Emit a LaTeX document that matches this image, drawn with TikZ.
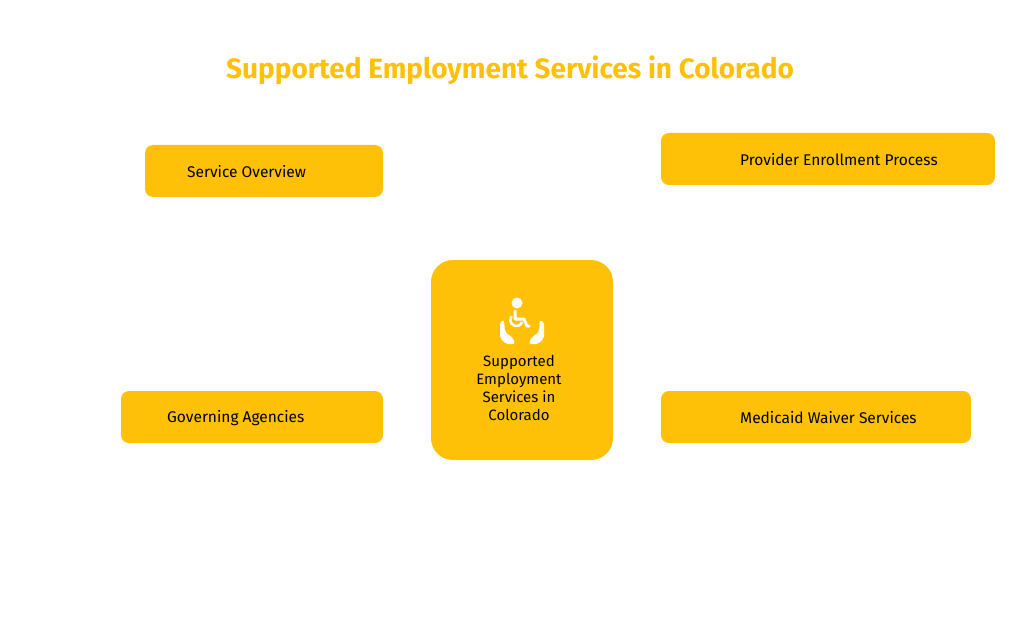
\documentclass[tikz,border=0pt]{standalone}
\usepackage{fontspec}
\setmainfont{Fira Sans}
\definecolor{amb}{HTML}{FFC107}
\begin{document}
\begin{tikzpicture}[x=1pt,y=-1pt,
 box/.style={fill=amb,rounded corners=8pt},
 lab/.style={anchor=west,font=\fontsize{15.5}{18}\selectfont,text=black,inner sep=0}]
\useasboundingbox (0,0) rectangle (1032,636);
\node[font=\fontsize{28}{32}\selectfont\bfseries,text=amb] (title) at (510,70) {Supported Employment Services in Colorado};
\fill[box] (145,145) rectangle (383,197);
\node[lab] (so) at (187,172) {Service Overview};
\fill[box] (661,133) rectangle (995,185);
\node[lab] (pe) at (740,160) {Provider Enrollment Process};
\fill[box] (121,391) rectangle (383,443);
\node[lab] (ga) at (167,418) {Governing Agencies};
\fill[box] (661,391) rectangle (971,443);
\node[lab] (mw) at (740,418) {Medicaid Waiver Services};
\fill[amb,rounded corners=22pt] (431,260) rectangle (613,460);
\node[align=center,font=\fontsize{15}{18}\selectfont,text=black] (c) at (519,388) {Supported\\Employment\\Services in\\Colorado};
% icon
\fill[white] (517,303) circle (5.5);
\draw[white,line width=3pt,line cap=round,line join=round] (515,311) -- (515,319) -- (524,319) -- (527,326) -- (529,326);
\draw[white,line width=2.5pt] (522,322) arc (20:220:6);
\fill[white,rounded corners=2pt] (500,322) -- (504,320) -- (505,332) -- (513,338) -- (515,344) -- (506,344) -- (500,338) -- cycle;
\fill[white,rounded corners=2pt] (544,322) -- (540,320) -- (539,332) -- (531,338) -- (529,344) -- (538,344) -- (544,338) -- cycle;
\end{tikzpicture}
\end{document}
